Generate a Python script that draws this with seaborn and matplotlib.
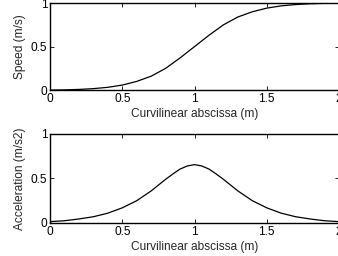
import pandas as pd
import matplotlib
matplotlib.use("Agg")
import matplotlib.pyplot as plt
import seaborn as sns

# values (curvilinear abscissa in m)
abscissa = [0.0, 0.1, 0.2, 0.3, 0.4, 0.5, 0.6, 0.7, 0.8, 0.85, 0.9, 0.95, 1.0,
            1.05, 1.1, 1.15, 1.2, 1.3, 1.4, 1.5, 1.6, 1.7, 1.8, 1.9, 2.0]
speed = [0.0, 0.003, 0.008, 0.017, 0.032, 0.058, 0.10, 0.16, 0.25, 0.31, 0.37, 0.435, 0.50,
         0.565, 0.63, 0.69, 0.75, 0.84, 0.90, 0.942, 0.968, 0.983, 0.992, 0.997, 1.0]
accel = [0.015, 0.025, 0.045, 0.07, 0.11, 0.17, 0.25, 0.36, 0.49, 0.55, 0.605, 0.64, 0.655,
         0.64, 0.605, 0.55, 0.49, 0.36, 0.25, 0.17, 0.11, 0.07, 0.045, 0.025, 0.015]
x_ticks = [0, 0.5, 1, 1.5, 2]
x_tick_labels = ["0", "0.5", "1", "1.5", "2"]
y_ticks = [0, 0.5, 1]
y_tick_labels = ["0", "0.5", "1"]

df = pd.DataFrame({"s": abscissa, "speed": speed, "accel": accel})

sns.set_style("ticks")
plt.rcParams["font.family"] = ["Liberation Sans", "DejaVu Sans"]
plt.rcParams["xtick.direction"] = "in"
plt.rcParams["ytick.direction"] = "in"
plt.rcParams["xtick.top"] = True
plt.rcParams["ytick.right"] = True

fig = plt.figure(figsize=(3.38, 2.56), dpi=100)
ax1 = fig.add_axes([0.148, 0.648, 0.855, 0.340])
ax2 = fig.add_axes([0.148, 0.129, 0.855, 0.348])

panels = [(ax1, "speed", "Speed (m/s)"), (ax2, "accel", "Acceleration (m/s2)")]
for ax, col, ylab in panels:
    sns.lineplot(x="s", y=col, data=df, ax=ax, color="black", linewidth=0.9)
    ax.set_xlim(0, 2)
    ax.set_ylim(0, 1)
    ax.set_xticks(x_ticks)
    ax.set_xticklabels(x_tick_labels)
    ax.set_yticks(y_ticks)
    ax.set_yticklabels(y_tick_labels)
    ax.tick_params(labelsize=8.6, length=3, width=0.6, pad=2, colors="black")
    ax.set_xlabel("Curvilinear abscissa (m)", fontsize=8.6, labelpad=2.5)
    ax.set_ylabel(ylab, fontsize=8.6, labelpad=3.2)
    for sp in ax.spines.values():
        sp.set_linewidth(1.0)
        sp.set_color("black")

fig.savefig("out.png", dpi=100)
